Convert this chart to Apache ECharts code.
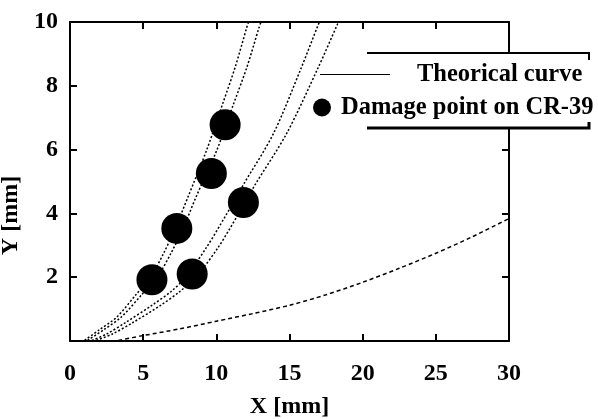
<!DOCTYPE html>
<html>
<head>
<meta charset="utf-8">
<script src="https://cdn.jsdelivr.net/npm/echarts@6/dist/echarts.min.js"></script>
<style>html,body{margin:0;padding:0;background:#fff}#c{width:598px;height:419px}</style>
</head>
<body>
<div id="c"></div>
<script>
// ---- data ----
const xTicks = [0, 5, 10, 15, 20, 25, 30];
const yTicks = [0, 2, 4, 6, 8, 10];
const damageX = [5.6, 7.3, 8.35, 9.66, 10.6, 11.85];
const damageY = [1.92, 3.53, 2.1, 5.25, 6.78, 4.34];
const curveA1 = [[1.0,0.02],[2.0,0.35],[3.2,0.75],[4.5,1.45],[5.5,2.0],[6.4,2.75],[7.2,3.55],[8.05,4.5],[9.35,6.0],[10.45,7.46],[11.3,8.6],[12.06,9.8],[12.2,10]];
const curveA2 = [[1.2,0.02],[2.3,0.35],[3.5,0.75],[4.9,1.45],[5.95,2.0],[6.9,2.75],[7.75,3.55],[8.6,4.5],[10.05,6.0],[11.2,7.46],[12.1,8.6],[12.9,9.8],[13.05,10]];
const curveB1 = [[1.5,0.02],[2.5,0.22],[3.8,0.58],[5.6,1.12],[6.9,1.55],[7.9,2.0],[9.35,2.95],[10.6,3.9],[11.85,4.9],[13.9,6.5],[15.8,8.56],[16.95,9.9],[17.05,10]];
const curveB2 = [[1.8,0.02],[2.9,0.22],[4.3,0.58],[6.2,1.12],[7.5,1.55],[8.6,2.0],[10.15,2.95],[11.4,3.9],[12.65,4.9],[14.8,6.5],[16.95,8.56],[18.25,9.9],[18.35,10]];
const curveC = [[3.3,0.02],[5,0.17],[7.5,0.38],[10,0.62],[12.5,0.86],[15,1.12],[17.5,1.45],[20,1.84],[22.5,2.28],[25,2.75],[27.5,3.27],[30,3.84]];
const lineName = 'Theorical curve';
const pointName = 'Damage point on CR-39';

const FONT = 'Liberation Serif';
const chart = echarts.init(document.getElementById('c'), null, {renderer: 'canvas'});

function curve(data, dash) {
  return {
    name: lineName, type: 'line', data: data, smooth: 0.3, showSymbol: false, symbol: 'none',
    color: '#000', lineStyle: {color: '#000', width: 1.5, type: dash}, z: 2, silent: true, clip: true
  };
}

const axisCommon = {
  type: 'value',
  axisLine: {show: true, onZero: false, lineStyle: {color: '#000', width: 2}},
  axisTick: {show: true, inside: true, length: 7, lineStyle: {color: '#000', width: 2}},
  splitLine: {show: false}
};

chart.setOption({
  animation: false,
  backgroundColor: '#fff',
  grid: {left: 70, right: 89, top: 22, bottom: 78, containLabel: false, outerBoundsMode: 'none'},
  xAxis: [
    Object.assign({}, axisCommon, {
      min: xTicks[0], max: xTicks[xTicks.length - 1], interval: 5, position: 'bottom',
      axisLabel: {color: '#000', fontFamily: FONT, fontWeight: 'bold', fontSize: 24, margin: 21},
      name: 'X [mm]', nameLocation: 'middle', nameGap: 54,
      nameTextStyle: {color: '#000', fontFamily: FONT, fontWeight: 'bold', fontSize: 24}
    }),
    Object.assign({}, axisCommon, {
      min: xTicks[0], max: xTicks[xTicks.length - 1], interval: 5, position: 'top',
      axisLabel: {show: false}
    })
  ],
  yAxis: [
    Object.assign({}, axisCommon, {
      min: yTicks[0], max: yTicks[yTicks.length - 1], interval: 2, position: 'left',
      axisLabel: {color: '#000', fontFamily: FONT, fontWeight: 'bold', fontSize: 24, margin: 12,
        formatter: v => (v === 0 ? '' : String(v))},
      name: 'Y [mm]', nameLocation: 'middle', nameGap: 30,
      nameTextStyle: {color: '#000', fontFamily: FONT, fontWeight: 'bold', fontSize: 24, padding: [0, 68, 0, 0]}
    }),
    Object.assign({}, axisCommon, {
      min: yTicks[0], max: yTicks[yTicks.length - 1], interval: 2, position: 'right',
      axisLabel: {show: false}
    })
  ],
  legend: [
    {
      data: [{name: lineName, icon: 'rect'}],
      left: 320, top: 62, padding: 0, itemWidth: 70, itemHeight: 1.2, z: 60,
      selectedMode: false, itemStyle: {color: '#000'},
      textStyle: {color: '#000', fontFamily: FONT, fontWeight: 'bold', fontSize: 24.5, padding: [0, 0, 0, 22]}
    },
    {
      data: [{name: pointName, icon: 'circle'}],
      left: 313, top: 95, padding: 0, itemWidth: 18, itemHeight: 18, z: 60,
      selectedMode: false, itemStyle: {color: '#000', opacity: 1},
      textStyle: {color: '#000', fontFamily: FONT, fontWeight: 'bold', fontSize: 24.5, padding: [0, 0, 0, 5]}
    }
  ],
  graphic: [
    {type: 'rect', shape: {x: 367, y: 53, width: 222, height: 75}, style: {fill: '#fff'}, z: 50, silent: true},
    {type: 'polyline', shape: {points: [[367, 53], [589, 53], [589, 60]]}, style: {stroke: '#000', lineWidth: 2, fill: null}, z: 51, silent: true},
    {type: 'polyline', shape: {points: [[367, 128], [589, 128], [589, 122]]}, style: {stroke: '#000', lineWidth: 3, fill: null}, z: 51, silent: true}
  ],
  series: [
    curve(curveA1, [2, 2]),
    curve(curveA2, [2, 2]),
    curve(curveB1, [2, 2]),
    curve(curveB2, [2, 2]),
    curve(curveC, [4, 3]),
    {
      name: pointName, type: 'scatter', symbol: 'circle', symbolSize: 31,
      data: damageX.map((x, i) => [x, damageY[i]]),
      itemStyle: {color: '#000', opacity: 1}, z: 3, silent: true
    }
  ]
});
</script>
</body>
</html>
